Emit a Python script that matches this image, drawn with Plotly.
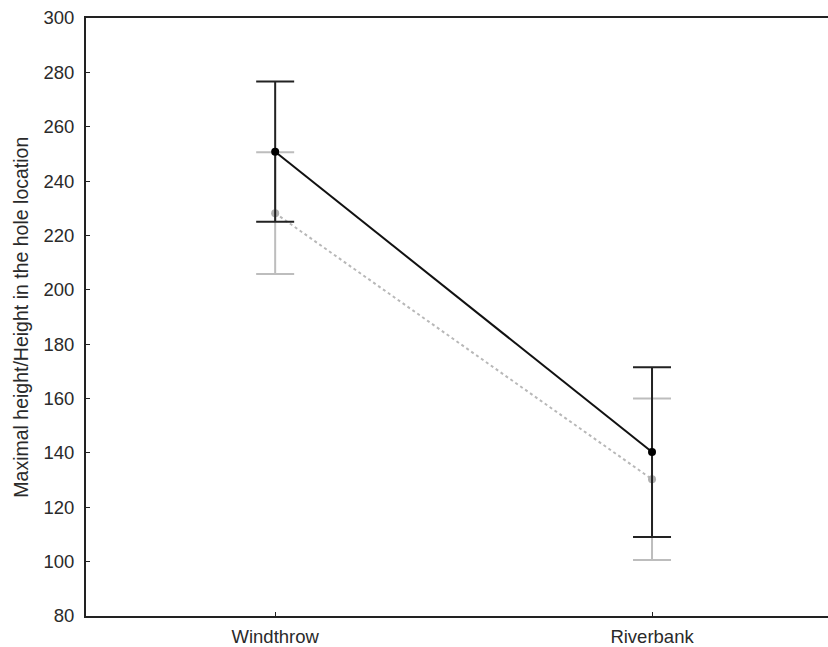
import plotly.graph_objects as go

# Group means with confidence intervals for the two sites
categories = ["Windthrow", "Riverbank"]
mean_dark = [250.8, 140.3]
err_dark = [25.8, 31.2]
mean_light = [228.2, 130.3]
err_light = [22.4, 29.7]

y_ticks = [80, 100, 120, 140, 160, 180, 200, 220, 240, 260, 280, 300]
y_title = "Maximal height/Height in the hole location"

x_pos = list(range(len(categories)))

fig = go.Figure()

# lighter series: dotted grey line with grey interval bars
fig.add_trace(go.Scatter(
    x=x_pos, y=mean_light,
    mode="lines+markers",
    line=dict(color="#b8b8b8", width=2, dash="dot"),
    marker=dict(color="#b0b0b0", size=8),
    error_y=dict(type="data", array=err_light, visible=True,
                 color="#bdbdbd", thickness=2, width=19),
    showlegend=False,
))

# darker series: solid black line with black interval bars
fig.add_trace(go.Scatter(
    x=x_pos, y=mean_dark,
    mode="lines+markers",
    line=dict(color="#111111", width=2),
    marker=dict(color="#000000", size=8),
    error_y=dict(type="data", array=err_dark, visible=True,
                 color="#222222", thickness=2, width=19),
    showlegend=False,
))

fig.update_layout(
    width=828, height=647,
    margin=dict(l=86, r=0, t=18, b=31),
    plot_bgcolor="white", paper_bgcolor="white",
    font=dict(family="Liberation Sans, Arial, sans-serif", size=18.5, color="#2a2a2a"),
)

fig.update_xaxes(
    range=[-0.502, 1.467],
    tickvals=x_pos, ticktext=categories,
    showgrid=False, zeroline=False,
    showline=True, linecolor="#222222", linewidth=2, mirror=True,
    ticks="inside", ticklen=4, tickcolor="#222222", tickwidth=1,
    tickfont=dict(size=18.5), ticklabelstandoff=3,
)

fig.update_yaxes(
    range=[80, 300],
    tickvals=y_ticks,
    showgrid=False, zeroline=False,
    showline=True, linecolor="#222222", linewidth=2,
    ticks="inside", ticklen=4, tickcolor="#222222", tickwidth=1,
    tickfont=dict(size=18.5), ticklabelstandoff=6,
)

# vertical axis title placed as a rotated annotation
fig.add_annotation(
    text=y_title, textangle=-90,
    xref="paper", yref="paper", x=-0.088, y=0.5,
    xanchor="center", yanchor="middle", showarrow=False,
    font=dict(size=19.5, color="#2a2a2a"),
)

fig.write_html("out.html")
